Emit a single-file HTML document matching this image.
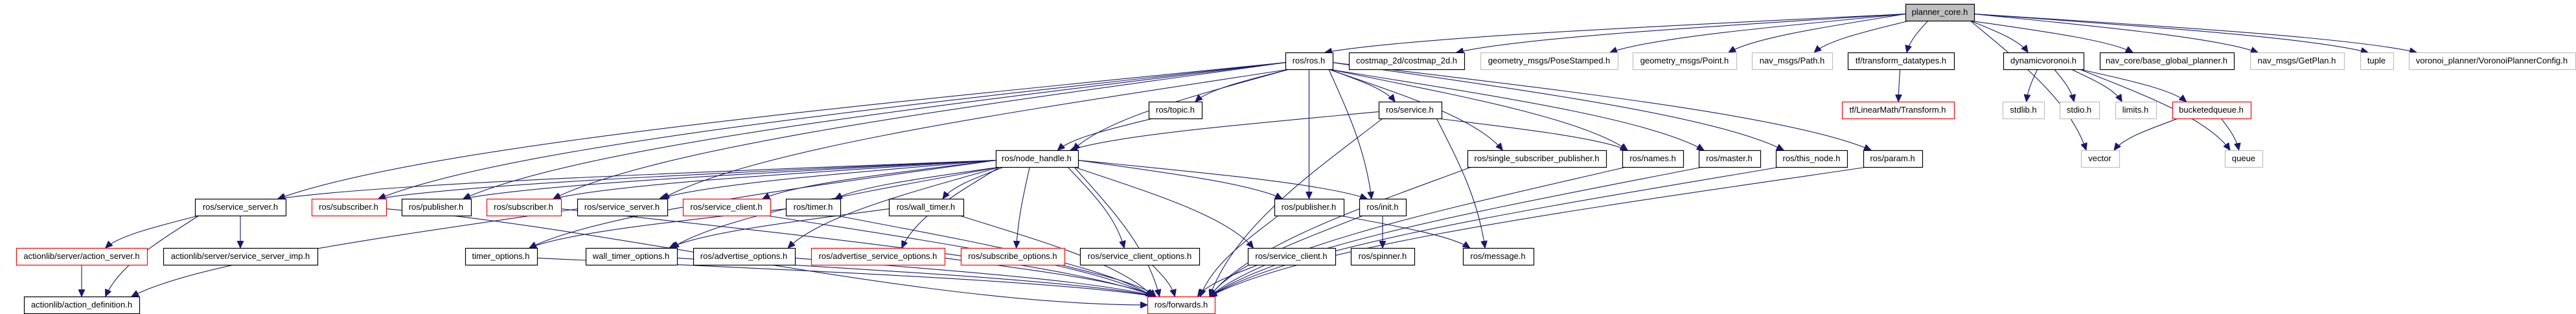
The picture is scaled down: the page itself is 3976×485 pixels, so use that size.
<!DOCTYPE html>
<html><head><meta charset="utf-8"><style>
html,body{margin:0;padding:0;background:#fff;}
svg{display:block;}
text{font-family:"Liberation Sans",Arial,sans-serif;font-size:13px;fill:#000;}
</style></head><body>
<svg id="g" xmlns="http://www.w3.org/2000/svg" width="3976" height="485" viewBox="0 0 3976 485">
<defs><marker id="ah" markerUnits="userSpaceOnUse" markerWidth="12" markerHeight="10" refX="11" refY="5" orient="auto"><path d="M0,0 L11,5 L0,10 Z" fill="#191970" stroke="#191970"/></marker></defs>
<g id="edges" fill="none" stroke="#191970" stroke-width="1.1"></g>
<g id="nodes"></g>
<g id="labels" text-anchor="middle">
<text x="2994" y="23">planner_core.h</text>
<text x="2020" y="98">ros/ros.h</text>
<text x="2171" y="98">costmap_2d/costmap_2d.h</text>
<text x="2391" y="98">geometry_msgs/PoseStamped.h</text>
<text x="2600" y="98">geometry_msgs/Point.h</text>
<text x="2766" y="98">nav_msgs/Path.h</text>
<text x="2934" y="98">tf/transform_datatypes.h</text>
<text x="3154" y="98">dynamicvoronoi.h</text>
<text x="3344" y="98">nav_core/base_global_planner.h</text>
<text x="3545" y="98">nav_msgs/GetPlan.h</text>
<text x="3668" y="98">tuple</text>
<text x="3846" y="98">voronoi_planner/VoronoiPlannerConfig.h</text>
<text x="1814" y="174">ros/topic.h</text>
<text x="2176" y="174">ros/service.h</text>
<text x="2929" y="174">tf/LinearMath/Transform.h</text>
<text x="3123" y="174">stdlib.h</text>
<text x="3209" y="174">stdio.h</text>
<text x="3296" y="174">limits.h</text>
<text x="3413" y="174">bucketedqueue.h</text>
<text x="1600" y="249">ros/node_handle.h</text>
<text x="2372" y="249">ros/single_subscriber_publisher.h</text>
<text x="2551" y="249">ros/names.h</text>
<text x="2669" y="249">ros/master.h</text>
<text x="2796" y="249">ros/this_node.h</text>
<text x="2921" y="249">ros/param.h</text>
<text x="3241" y="249">vector</text>
<text x="3463" y="249">queue</text>
<text x="371" y="324">ros/service_server.h</text>
<text x="538" y="324">ros/subscriber.h</text>
<text x="673" y="324">ros/publisher.h</text>
<text x="808" y="324">ros/subscriber.h</text>
<text x="960" y="324">ros/service_server.h</text>
<text x="1121" y="324">ros/service_client.h</text>
<text x="1255" y="324">ros/timer.h</text>
<text x="1429" y="324">ros/wall_timer.h</text>
<text x="2020" y="324">ros/publisher.h</text>
<text x="2134" y="324">ros/init.h</text>
<text x="126" y="400">actionlib/server/action_server.h</text>
<text x="371" y="400">actionlib/server/service_server_imp.h</text>
<text x="773" y="400">timer_options.h</text>
<text x="974" y="400">wall_timer_options.h</text>
<text x="1148" y="400">ros/advertise_options.h</text>
<text x="1355" y="400">ros/advertise_service_options.h</text>
<text x="1563" y="400">ros/subscribe_options.h</text>
<text x="1759" y="400">ros/service_client_options.h</text>
<text x="1993" y="400">ros/service_client.h</text>
<text x="2134" y="400">ros/spinner.h</text>
<text x="2312" y="400">ros/message.h</text>
<text x="126" y="475">actionlib/action_definition.h</text>
<text x="1823" y="475">ros/forwards.h</text>
</g>
</svg>
<script>
var T=[6,81,157,232,307,383,458],H=26;
var N={
pc:[2941,3047,0,'f'],
ros:[1984,2057,1],cm:[2082,2260,1],pose:[2285,2497,1,'g'],point:[2520,2680,1,'g'],path:[2704,2828,1,'g'],tfd:[2852,3016,1],dv:[3092,3216,1],nav:[3241,3448,1],gp:[3473,3618,1,'g'],tup:[3643,3694,1,'g'],vpc:[3718,3975,1,'g'],
topic:[1773,1855,2],svc:[2128,2225,2],tf:[2843,3016,2,'r'],stdlib:[3091,3155,2,'g'],stdio:[3179,3240,2,'g'],lim:[3265,3328,2,'g'],bq:[3353,3474,2,'r'],
nh:[1537,1664,3],ssp:[2265,2479,3],names:[2504,2598,3],master:[2622,2717,3],tn:[2741,2851,3],param:[2876,2967,3],vec:[3212,3271,3,'g'],que:[3434,3492,3,'g'],
ss1:[301,441,4],sub1:[481,596,4,'r'],pub1:[620,727,4],sub2:[751,866,4,'r'],ss2:[891,1030,4],sc1:[1054,1189,4,'r'],tim:[1213,1297,4],wt:[1372,1487,4],pub2:[1967,2074,4],init:[2098,2170,4],
as:[25,227,5,'r'],ssi:[252,490,5],to:[718,829,5],wto:[904,1045,5],ao:[1070,1227,5],aso:[1252,1458,5,'r'],so:[1483,1643,5,'r'],sco:[1667,1851,5],sc2:[1926,2061,5],spin:[2085,2183,5],msg:[2258,2367,5],
ad:[37,215,6],fw:[1771,1875,6,'r']};
var E={pc:'ros cm pose point path tfd vec dv nav gp tup vpc',tfd:'tf',dv:'stdlib stdio lim bq que',bq:'vec que',
ros:'ss1 sub1 pub1 sub2 ss2 nh topic svc ssp names master tn param pub2 init',topic:'nh',svc:'nh names msg fw',
nh:'ss1 sub1 pub1 sub2 ss2 sc1 tim wt pub2 init to wto ao aso so sco sc2 fw',ss1:'as ssi ad',as:'ad',ss2:'ad',
sub1:'fw',sub2:'fw',sc1:'fw',tim:'to fw',wt:'wto fw',pub2:'msg fw',init:'spin fw',to:'fw',wto:'fw',ao:'fw',aso:'fw',so:'fw',sco:'fw',sc2:'fw',
ssp:'fw',names:'fw',master:'fw',tn:'fw',param:'fw'};
var NS='http://www.w3.org/2000/svg',ng=document.getElementById('nodes'),eg=document.getElementById('edges');
for(var k in N){var n=N[k],r=document.createElementNS(NS,'rect');
r.setAttribute('x',n[0]+.5);r.setAttribute('y',T[n[2]]+.5);r.setAttribute('width',n[1]-n[0]);r.setAttribute('height',H);
r.setAttribute('fill',n[3]=='f'?'#bfbfbf':'#fff');r.setAttribute('stroke',n[3]=='r'?'#ff0000':n[3]=='g'?'#bfbfbf':'#000');r.setAttribute('stroke-width','1.2');ng.appendChild(r);}
function cl(v,a,b){return Math.max(a,Math.min(b,v));}
for(var s in E){E[s].split(' ').forEach(function(t){var a=N[s],b=N[t];
var acx=(a[0]+a[1])/2,bcx=(b[0]+b[1])/2,ay=T[a[2]]+H,by=T[b[2]],dy=by-ay,dx=bcx-acx,sx,sy,ex,ey,d;
if(Math.abs(dx)>5*(dy+H)){sx=dx<0?a[0]:a[1];sy=T[a[2]]+H*0.6;}else{sx=cl(acx+dx*0.3,a[0]+6,a[1]-6);sy=ay;}
if(Math.abs(dx)>8*(dy+H)&&b[2]-a[2]>=2){ex=dx<0?b[1]:b[0];ey=by+H/2;
d='M'+sx+','+sy+' C'+(sx+(ex-sx)*0.3)+','+(sy+(ey-sy)*0.2)+' '+(ex-(ex-sx)*0.3)+','+ey+' '+ex+','+ey;}
else{ex=cl(bcx-dx*0.15,b[0]+8,b[1]-8);if(Math.abs(dx)>5*(dy+H))ex=dx<0?b[1]-12:b[0]+12;ey=by;
d='M'+sx+','+sy+' C'+(sx+(ex-sx)*0.4)+','+(sy+(ey-sy)*0.3)+' '+(ex-(ex-sx)*0.15)+','+(ey-(ey-sy)*0.4)+' '+ex+','+ey;}
var p=document.createElementNS(NS,'path');p.setAttribute('d',d);p.setAttribute('marker-end','url(#ah)');eg.appendChild(p);});}
</script>
</body></html>
